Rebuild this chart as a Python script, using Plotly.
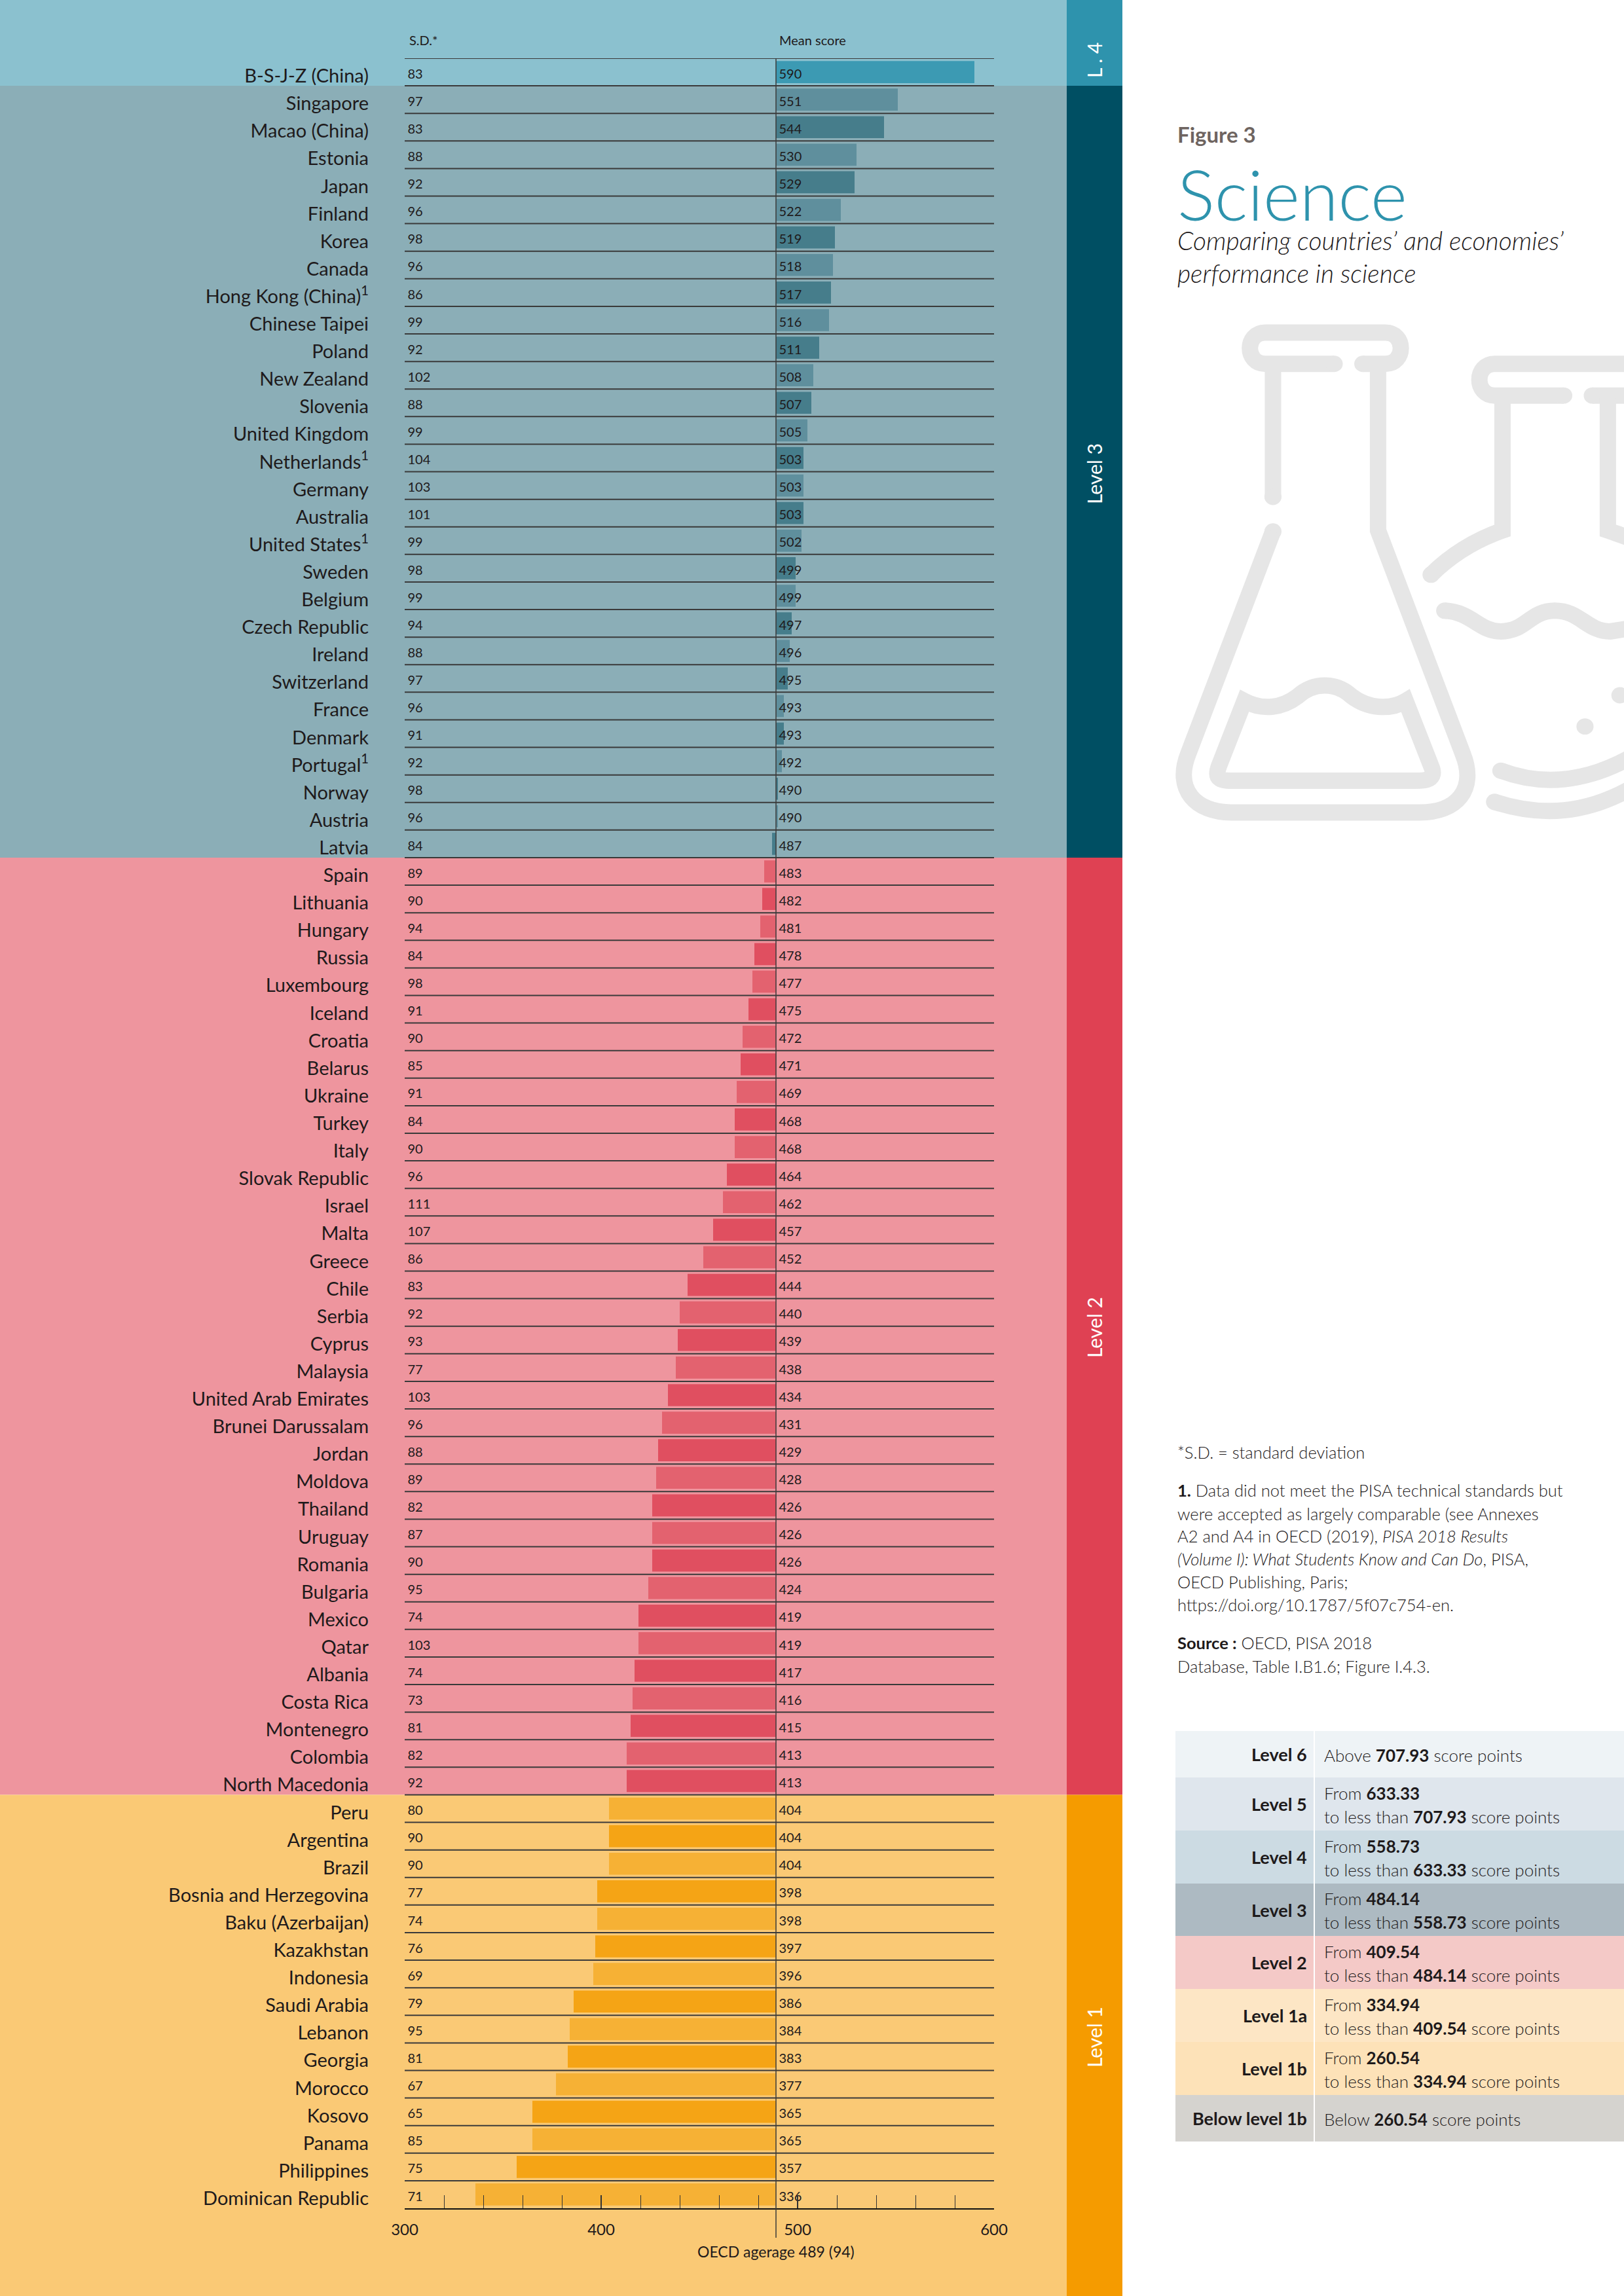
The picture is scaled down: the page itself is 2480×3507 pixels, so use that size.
import plotly.graph_objects as go

W = 2480
H = 3507
FONT = "Lato"
DARK = "#1E1A1B"

countries = ["B-S-J-Z (China)", "Singapore", "Macao (China)", "Estonia", "Japan", "Finland", "Korea", "Canada",
             "Hong Kong (China)<sup>1</sup>", "Chinese Taipei", "Poland", "New Zealand", "Slovenia", "United Kingdom",
             "Netherlands<sup>1</sup>", "Germany", "Australia", "United States<sup>1</sup>", "Sweden", "Belgium",
             "Czech Republic", "Ireland", "Switzerland", "France", "Denmark", "Portugal<sup>1</sup>", "Norway",
             "Austria", "Latvia", "Spain", "Lithuania", "Hungary", "Russia", "Luxembourg", "Iceland", "Croatia",
             "Belarus", "Ukraine", "Turkey", "Italy", "Slovak Republic", "Israel", "Malta", "Greece", "Chile",
             "Serbia", "Cyprus", "Malaysia", "United Arab Emirates", "Brunei Darussalam", "Jordan", "Moldova",
             "Thailand", "Uruguay", "Romania", "Bulgaria", "Mexico", "Qatar", "Albania", "Costa Rica", "Montenegro",
             "Colombia", "North Macedonia", "Peru", "Argentina", "Brazil", "Bosnia and Herzegovina",
             "Baku (Azerbaijan)", "Kazakhstan", "Indonesia", "Saudi Arabia", "Lebanon", "Georgia", "Morocco",
             "Kosovo", "Panama", "Philippines", "Dominican Republic"]
sd = [83, 97, 83, 88, 92, 96, 98, 96, 86, 99, 92, 102, 88, 99, 104, 103, 101, 99, 98, 99, 94, 88, 97, 96, 91, 92,
      98, 96, 84, 89, 90, 94, 84, 98, 91, 90, 85, 91, 84, 90, 96, 111, 107, 86, 83, 92, 93, 77, 103, 96, 88, 89,
      82, 87, 90, 95, 74, 103, 74, 73, 81, 82, 92, 80, 90, 90, 77, 74, 76, 69, 79, 95, 81, 67, 65, 85, 75, 71]
mean = [590, 551, 544, 530, 529, 522, 519, 518, 517, 516, 511, 508, 507, 505, 503, 503, 503, 502, 499, 499, 497,
        496, 495, 493, 493, 492, 490, 490, 487, 483, 482, 481, 478, 477, 475, 472, 471, 469, 468, 468, 464, 462,
        457, 452, 444, 440, 439, 438, 434, 431, 429, 428, 426, 426, 426, 424, 419, 419, 417, 416, 415, 413, 413,
        404, 404, 404, 398, 398, 397, 396, 386, 384, 383, 377, 365, 365, 357, 336]
oecd_mean = 489

# (label, number of countries, band colour, strip colour, light bar, dark bar, label y)
levels = [("L . 4", 1, "#8BC1CF", "#2E93AD", "#3C9AB3", "#3C9AB3", 92),
          ("Level 3", 28, "#8BAEB7", "#004F63", "#5F8F9D", "#467D8B", 724),
          ("Level 2", 34, "#EE959E", "#DF4153", "#E3626F", "#E04F60", 2028),
          ("Level 1", 15, "#FAC975", "#F59B00", "#F6B135", "#F5A415", 3112)]

score_levels = ["Level 6", "Level 5", "Level 4", "Level 3", "Level 2", "Level 1a", "Level 1b", "Below level 1b"]
score_text = [["Above <b>707.93</b> score points"],
              ["From <b>633.33</b>", "to less than <b>707.93</b> score points"],
              ["From <b>558.73</b>", "to less than <b>633.33</b> score points"],
              ["From <b>484.14</b>", "to less than <b>558.73</b> score points"],
              ["From <b>409.54</b>", "to less than <b>484.14</b> score points"],
              ["From <b>334.94</b>", "to less than <b>409.54</b> score points"],
              ["From <b>260.54</b>", "to less than <b>334.94</b> score points"],
              ["Below <b>260.54</b> score points"]]
score_colors = ["#EEF3F6", "#DFE6ED", "#CCDBE3", "#ADBAC2", "#F4C9C7", "#FDE6C5", "#FDE2B8", "#D5D3CF"]
score_edges = [2644, 2715, 2796, 2877, 2957, 3038, 3119, 3200, 3271]

notes = [(2218, "*S.D. = standard deviation"),
         (2276, "<b>1.</b> Data did not meet the PISA technical standards but"),
         (2312, "were accepted as largely comparable (see Annexes"),
         (2346, "A2 and A4 in OECD (2019), <i>PISA 2018 Results</i>"),
         (2381, "<i>(Volume I): What Students Know and Can Do</i>, PISA,"),
         (2416, "OECD Publishing, Paris;"),
         (2451, "https://doi.org/10.1787/5f07c754-en."),
         (2509, "<b>Source :</b> OECD, PISA 2018"),
         (2545, "Database, Table I.B1.6; Figure I.4.3.")]


def px(x):
    return x / W


def py(y):
    return 1 - y / H


def text(x, y, s, size, color=DARK, anchor="left", angle=0, weight=300):
    fig.add_annotation(x=px(x), y=py(y), xref="paper", yref="paper", text=s, showarrow=False, xanchor=anchor,
                       yanchor="middle", textangle=angle, align="left",
                       font=dict(family=FONT, size=size, color=color, weight=weight))


def rect(x0, y0, x1, y1, color):
    fig.add_shape(type="rect", xref="paper", yref="paper", x0=px(x0), x1=px(x1), y0=py(y0), y1=py(y1),
                  fillcolor=color, line_width=0, layer="below")


fig = go.Figure()

# bars grow from the OECD average, colours alternate inside each level
rows = list(range(len(countries)))
bar_colors = []
for name, n, band, strip, light, dark, label_y in levels:
    for i in range(n):
        row = len(bar_colors) + 1
        bar_colors.append(light if row % 2 == 0 else dark)

fig.add_bar(y=rows, x=[m - oecd_mean for m in mean], base=oecd_mean, orientation="h", width=0.8,
            marker=dict(color=bar_colors, line_width=0))

label_shift = 0.11
fig.add_scatter(x=[301.5] * len(rows), y=[r + label_shift for r in rows], mode="text", text=sd,
                textposition="middle right", textfont=dict(family=FONT, size=20, color=DARK))
fig.add_scatter(x=[oecd_mean + 1.5] * len(rows), y=[r + label_shift for r in rows], mode="text", text=mean,
                textposition="middle right", textfont=dict(family=FONT, size=20, color=DARK))

top = 89
bottom = 3373
row_h = (bottom - top) / len(rows)

# background bands and the coloured strip with the level names
band_top = 0
row_at = 0
for name, n, band, strip, light, dark, label_y in levels:
    row_at += n
    band_end = top + row_at * row_h if row_at < len(rows) else H
    rect(0, band_top, 1629, band_end, band)
    rect(1629, band_top, 1714, band_end, strip)
    text(1671, label_y, name, 30, color="white", anchor="center", angle=-90, weight=400)
    band_top = band_end

# row rules
for r in range(len(rows)):
    fig.add_shape(type="line", xref="x", yref="y", x0=300, x1=600, y0=r - 0.5, y1=r - 0.5,
                  line=dict(color="#3A3A3A", width=2))

# OECD average line runs from the first rule down past the tick labels
fig.add_shape(type="line", xref="x", yref="paper", x0=oecd_mean, x1=oecd_mean, y0=py(top), y1=py(3418),
              line=dict(color="#3A3A3A", width=1.5))

fig.add_annotation(x=300, y=py(61), xref="x", yref="paper", text="S.D.*", showarrow=False, xanchor="left",
                   yanchor="middle", xshift=5, font=dict(family=FONT, size=20, color=DARK))
fig.add_annotation(x=oecd_mean, y=py(61), xref="x", yref="paper", text="Mean score", showarrow=False, xanchor="left",
                   yanchor="middle", xshift=3, font=dict(family=FONT, size=20, color=DARK))
fig.add_annotation(x=oecd_mean, y=py(3439), xref="x", yref="paper", text="OECD agerage 489 (94)", showarrow=False,
                   xanchor="center", yanchor="middle", font=dict(family=FONT, size=23, color=DARK, weight=400))

# right column
text(1796, 205, "Figure 3", 33, color="#6E6460", weight=700)
text(1796, 296, "Science", 107, color="#2E93AD")
text(1796, 367, "<i>Comparing countries’ and economies’</i>", 39)
text(1796, 417, "<i>performance in science</i>", 39)

for y, s in notes:
    text(1796, y, s, 25.5)

# score table
for i, name in enumerate(score_levels):
    y0 = score_edges[i]
    y1 = score_edges[i + 1]
    mid = (y0 + y1) / 2
    rect(1795, y0, W, y1, score_colors[i])
    text(1998, mid, name, 27, anchor="right", weight=700)
    lines = score_text[i]
    for j, line in enumerate(lines):
        text(2020, mid + 1 + (j - (len(lines) - 1) / 2) * 36, line, 26)
fig.add_shape(type="line", xref="paper", yref="paper", x0=px(2007), x1=px(2007), y0=py(score_edges[0]),
              y1=py(score_edges[-1]), line=dict(color="white", width=2), layer="below")


# flask icons, drawn from the zoomed crop coordinates
def zx(x):
    return px(1720 + x / 2.063)


def zy(y):
    return py(150 + y / 1.363)


def stroke(points):
    # points: list of (cmd, x, y, ...) with pairs of coords
    out = ""
    for p in points:
        out += p[0]
        coords = p[1:]
        for k in range(0, len(coords), 2):
            out += f" {zx(coords[k]):.5f},{zy(coords[k + 1]):.5f} "
    fig.add_shape(type="path", xref="paper", yref="paper", path=out, line=dict(color="#E6E6E6", width=25),
                  layer="below")


def dot(x, y, rx=27, ry=17):
    fig.add_shape(type="circle", xref="paper", yref="paper", x0=zx(x - rx), x1=zx(x + rx), y0=zy(y + ry), y1=zy(y - ry),
                  fillcolor="#E6E6E6", line_width=0, layer="below")


def rim(x_left, x_right, x_gap0, x_gap1, y_top, y_bot):
    stroke([("M", x_gap0, y_bot), ("L", x_left + 50, y_bot),
            ("C", x_left - 15, y_bot, x_left - 15, y_top, x_left + 50, y_top),
            ("L", x_right - 50, y_top),
            ("C", x_right + 15, y_top, x_right + 15, y_bot, x_right - 50, y_bot),
            ("L", x_gap1, y_bot)])
    dot(x_gap0, y_bot)
    dot(x_gap1, y_bot)


# left flask
rim(388, 866, 655, 745, 488, 553)
stroke([("M", 462, 560), ("L", 462, 830)])
dot(462, 830)
dot(462, 902)
stroke([("M", 462, 902), ("L", 195, 1365), ("C", 150, 1440, 220, 1487, 330, 1487), ("L", 925, 1487),
        ("C", 1040, 1487, 1105, 1440, 1060, 1365), ("L", 793, 900), ("L", 793, 560)])
stroke([("M", 372, 1255), ("C", 430, 1275, 490, 1270, 540, 1245), ("C", 590, 1215, 660, 1215, 710, 1245),
        ("C", 760, 1270, 830, 1275, 880, 1255), ("L", 960, 1390), ("C", 980, 1420, 940, 1421, 910, 1421),
        ("L", 340, 1421), ("C", 300, 1421, 275, 1420, 292, 1390), ("Z",)])

# right flask, runs off the page
rim(1111, 1700, 1378, 1468, 553, 619)
stroke([("M", 1185, 625), ("L", 1185, 900), ("C", 1120, 915, 1040, 940, 960, 992)])
dot(960, 992)
stroke([("M", 1517, 625), ("L", 1517, 900), ("C", 1560, 910, 1610, 920, 1650, 935)])
stroke([("M", 1003, 1067), ("C", 1090, 1070, 1110, 1110, 1180, 1110), ("C", 1260, 1110, 1270, 1067, 1350, 1067),
        ("C", 1430, 1067, 1450, 1110, 1525, 1110), ("L", 1620, 1100)])
dot(1003, 1067)
dot(1445, 1308)
dot(1555, 1243)
stroke([("M", 1180, 1400), ("C", 1300, 1430, 1450, 1430, 1620, 1360)])
dot(1180, 1400)
stroke([("M", 1160, 1465), ("C", 1300, 1495, 1450, 1495, 1620, 1425)])
dot(1160, 1465)

fig.update_layout(
    template="none",
    width=W, height=H, margin=dict(l=0, r=0, t=0, b=0, pad=0), showlegend=False,
    paper_bgcolor="white", plot_bgcolor="rgba(0,0,0,0)",
    font=dict(family=FONT, size=24, color=DARK),
    xaxis=dict(domain=[px(618), px(1518)], range=[300, 600], dtick=100, tick0=300, ticks="inside", ticklen=20,
               tickwidth=1.5, tickcolor="#333333", showgrid=False, zeroline=False, showline=True, linecolor="#111111",
               linewidth=2, ticklabelstandoff=10, tickfont=dict(family=FONT, size=24, color=DARK), automargin=False,
               minor=dict(dtick=20, ticks="inside", ticklen=20, tickwidth=1, tickcolor="#333333", showgrid=False)),
    yaxis=dict(domain=[py(bottom), py(top)], range=[len(rows) - 0.5, -0.5], tickvals=[r + 0.14 for r in rows],
               ticktext=countries, showgrid=False, zeroline=False, showline=False, ticks="", automargin=False,
               ticklabelstandoff=54, tickfont=dict(family=FONT, size=29, color=DARK, weight=400)),
)

# the page body keeps a default margin otherwise
fig.write_html("out.html", post_script="document.body.style.margin='0';", config={"displayModeBar": False})
